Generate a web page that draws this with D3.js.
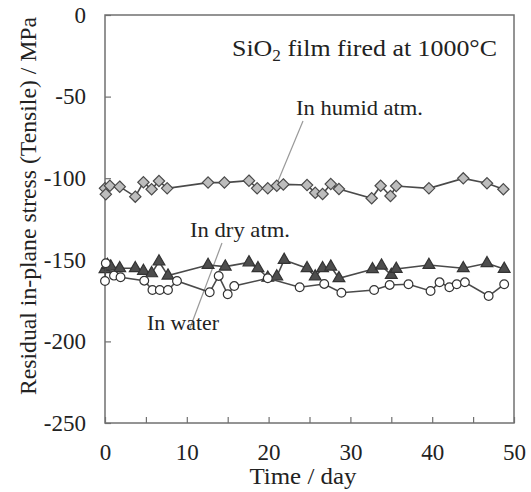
<!DOCTYPE html>
<html>
<head>
<meta charset="utf-8">
<script src="https://cdn.jsdelivr.net/npm/d3@7"></script>
<style>
html,body{margin:0;padding:0;background:#fff;}
svg{display:block;}
</style>
</head>
<body>
<svg id="chart" width="531" height="492"></svg>
<script>
// ---- data ----
const humidDays = [0,0.1,0.6,1.8,3.7,4.7,5.7,6.6,7.6,12.6,14.6,17.6,18.6,19.9,21,21.8,24.7,25.7,26.6,27.6,28.6,32.6,33.7,34.9,35.6,39.6,43.8,46.7,48.7];
const humidStress = [-106.2,-109.9,-104.6,-105.2,-111.3,-102.5,-106.8,-101.7,-106.2,-102.7,-102.7,-101.5,-106.2,-106.2,-104.6,-103.8,-104.2,-108.9,-109.7,-103.6,-106.6,-112.3,-104.6,-110.9,-104.8,-106.2,-100.1,-103.1,-106.8];

const dryDays = [0,0.3,0.7,1.8,3.7,4.7,5.7,6.6,7.7,12.6,14.7,17.6,18.7,19.9,21,21.9,24.7,25.7,26.6,27.6,28.6,32.7,33.8,35,35.6,39.6,43.8,46.7,48.8];
const dryStress = [-155.8,-153.2,-154.2,-155.2,-155.2,-156.9,-158.3,-151.1,-159.7,-153.2,-154.2,-151.6,-155.2,-161,-160.3,-150.1,-155.2,-160.3,-155.2,-154.2,-161.3,-155.8,-153.6,-159.3,-155.6,-153.2,-155.2,-152.1,-155.6];

const waterDays = [0.1,0,1.1,1.9,4.8,5.8,6.7,7.7,8.8,12.8,13.9,15,15.8,19.9,23.8,26.8,28.9,32.9,34.8,37.1,39.8,40.9,42.1,43,44,46.9,48.8];
const waterStress = [-152.1,-163,-159.7,-160.7,-162.8,-168.5,-168.5,-168.5,-163,-169.9,-159.9,-171.1,-166.1,-161.3,-166.8,-164.8,-170.2,-168.5,-165.4,-165,-169.1,-163.8,-166.8,-165,-163.8,-172.2,-165];

const xTicks = [0,10,20,30,40,50];
const xMinorTicks = [5,15,25,35,45];
const yTicks = [0,-50,-100,-150,-200,-250];

// ---- layout ----
const svg = d3.select("#chart");
const L = 105, R = 514, T = 15, B = 423;
const x = d3.scaleLinear().domain([0,50]).range([L,R]);
const y = d3.scaleLinear().domain([-250,0]).range([B,T]);
const axisColor = "#707070";
const FONT = "Liberation Serif";
const TXT = "#222";

// frame
svg.append("rect").attr("x",L).attr("y",T).attr("width",R-L).attr("height",B-T)
  .attr("fill","none").attr("stroke",axisColor).attr("stroke-width",1.5);

// x axis (ticks inside)
const xAxis = d3.axisBottom(x).tickValues(xTicks).tickSizeInner(-6).tickSizeOuter(0).tickPadding(14).tickFormat(d3.format("d"));
const gx = svg.append("g").attr("transform",`translate(0,${B})`).call(xAxis)
  .attr("font-family",FONT).attr("font-size",23);
gx.select(".domain").remove();
gx.selectAll("line").attr("stroke",axisColor).attr("stroke-width",1.2);
gx.selectAll("text").attr("font-family",FONT).attr("fill",TXT).attr("dy","1.0em");
const xMinor = d3.axisBottom(x).tickValues(xMinorTicks).tickSizeInner(-6).tickSizeOuter(0).tickFormat("");
const gxm = svg.append("g").attr("transform",`translate(0,${B})`).call(xMinor);
gxm.select(".domain").remove();
gxm.selectAll("line").attr("stroke",axisColor).attr("stroke-width",1.2);

// y axis (ticks inside)
const yAxis = d3.axisLeft(y).tickValues(yTicks).tickSizeInner(-6).tickSizeOuter(0).tickPadding(19).tickFormat(d3.format("d"));
const gy = svg.append("g").attr("transform",`translate(${L},0)`).call(yAxis)
  .attr("font-family",FONT).attr("font-size",23);
gy.select(".domain").remove();
gy.selectAll("line").attr("stroke",axisColor).attr("stroke-width",1.2);
gy.selectAll("text").attr("font-family",FONT).attr("fill",TXT).text(d => d === 0 ? "0" : "-" + Math.abs(d));

// axis titles
svg.append("text").attr("x",303).attr("y",484).attr("text-anchor","middle")
  .attr("font-family",FONT).attr("fill",TXT).attr("font-size",24)
  .attr("textLength",107).attr("lengthAdjust","spacingAndGlyphs").text("Time / day");
svg.append("text").attr("transform",`translate(36,206) rotate(-90)`).attr("text-anchor","middle")
  .attr("font-family",FONT).attr("fill",TXT).attr("font-size",24)
  .attr("textLength",378).attr("lengthAdjust","spacingAndGlyphs")
  .text("Residual in-plane stress (Tensile)  / MPa");

// chart title
const title = svg.append("text").attr("x",232).attr("y",56)
  .attr("font-family",FONT).attr("fill",TXT).attr("font-size",24)
  .attr("textLength",265).attr("lengthAdjust","spacingAndGlyphs");
title.append("tspan").text("SiO");
title.append("tspan").attr("font-size",16).attr("dy",5).text("2");
title.append("tspan").attr("dy",-5).text(" film  fired at 1000\u00B0C");

// leader lines
svg.append("line").attr("x1",303).attr("y1",121).attr("x2",276).attr("y2",186)
  .attr("stroke","#999").attr("stroke-width",1.2);
svg.append("line").attr("x1",222).attr("y1",243).attr("x2",190).attr("y2",328)
  .attr("stroke","#999").attr("stroke-width",1.2);

// labels
function label(xp, yp, w, s) {
  svg.append("text").attr("x",xp).attr("y",yp).attr("font-family",FONT).attr("fill",TXT)
    .attr("font-size",22).attr("textLength",w).attr("lengthAdjust","spacingAndGlyphs").text(s);
}
label(296,115,127,"In humid atm.");
label(190,237,100,"In dry atm.");
label(147,330,72,"In water");

// series
const lineColor = "#4a4a4a";
function series(days, vals, symbolType, size, fill, stroke) {
  const pts = days.map((d,i) => [d, vals[i]]);
  const ord = pts.slice().sort((a,b)=>a[0]-b[0]);
  svg.append("path").datum(ord)
    .attr("d", d3.line().x(p=>x(p[0])).y(p=>y(p[1])))
    .attr("fill","none").attr("stroke",lineColor).attr("stroke-width",1.6);
  svg.append("g").selectAll("path").data(pts).join("path")
    .attr("transform", p => `translate(${x(p[0])},${y(p[1])})`)
    .attr("d", d3.symbol().type(symbolType).size(size))
    .attr("fill", fill).attr("stroke", stroke).attr("stroke-width",1.2);
}
const diamond = {draw(ctx,size){const r=Math.sqrt(size/2);ctx.moveTo(0,-r);ctx.lineTo(r,0);ctx.lineTo(0,r);ctx.lineTo(-r,0);ctx.closePath();}};
series(humidDays, humidStress, diamond, 64, "#bdbdbd", "#4a4a4a");
series(dryDays, dryStress, d3.symbolTriangle, 60, "#4d4d4d", "#333");
series(waterDays, waterStress, d3.symbolCircle, 60, "#ffffff", "#333");
</script>
</body>
</html>
